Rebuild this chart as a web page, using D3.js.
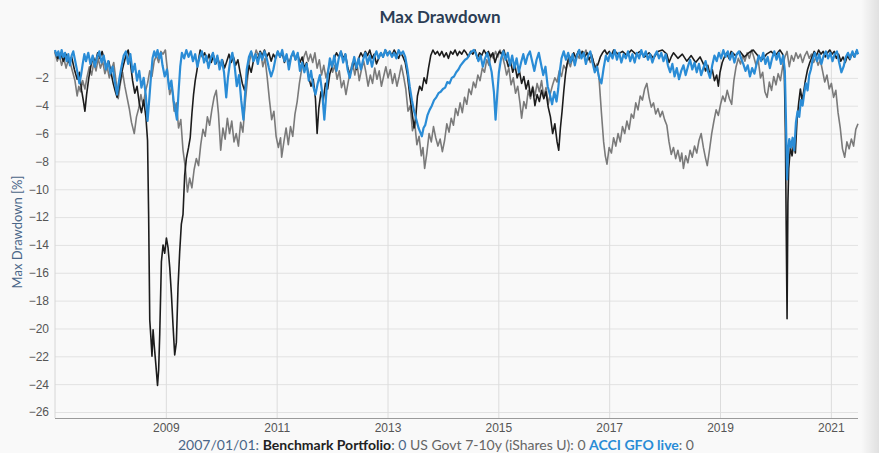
<!DOCTYPE html>
<html>
<head>
<meta charset="utf-8">
<script src="https://cdn.jsdelivr.net/npm/d3@7/dist/d3.min.js"></script>
<style>
  html, body { margin: 0; padding: 0; background: #f9f9f9; }
  svg { display: block; font-family: Lato, "Open Sans", sans-serif; }
</style>
</head>
<body>
<svg id="chart" width="879" height="453"></svg>
<script>
// ── data: [decimal year, drawdown %] ─────────────────────────
const govt = [
  [2007.00,-0.2],[2007.04,-0.8],[2007.08,-0.4],[2007.12,-1.1],[2007.16,-0.6],[2007.20,-1.3],[2007.24,-0.7],[2007.28,-1.0],
  [2007.32,-1.6],[2007.36,-2.2],[2007.40,-3.3],[2007.43,-2.6],[2007.46,-3.0],[2007.50,-2.2],[2007.54,-2.8],[2007.58,-1.9],
  [2007.62,-1.2],[2007.66,-1.8],[2007.70,-0.9],[2007.74,-1.5],[2007.78,-0.6],[2007.82,-1.3],[2007.86,-0.8],[2007.90,-1.7],
  [2007.94,-1.2],[2007.98,-2.0],[2008.02,-1.4],[2008.06,-0.9],[2008.10,-2.2],[2008.14,-3.5],[2008.18,-2.4],[2008.22,-1.6],
  [2008.26,-2.6],[2008.30,-3.4],[2008.34,-4.2],[2008.38,-5.2],[2008.43,-6.0],[2008.47,-4.8],[2008.51,-4.2],[2008.55,-3.2],
  [2008.59,-4.0],[2008.63,-3.0],[2008.67,-2.4],[2008.71,-1.5],[2008.75,-1.9],[2008.79,-0.8],[2008.83,-0.4],[2008.87,-0.9],
  [2008.91,-0.1],[2008.95,-0.3],[2008.99,0],[2009.03,-1.5],[2009.07,-3.2],[2009.11,-2.6],[2009.15,-4.4],[2009.19,-3.8],
  [2009.23,-5.6],[2009.27,-5.0],[2009.31,-7.2],[2009.35,-8.4],[2009.39,-10.2],[2009.43,-9.2],[2009.47,-9.9],[2009.51,-8.6],
  [2009.55,-7.8],[2009.59,-8.3],[2009.63,-6.8],[2009.67,-5.7],[2009.71,-6.2],[2009.75,-4.8],[2009.79,-5.4],[2009.83,-4.3],
  [2009.87,-3.4],[2009.91,-2.9],[2009.95,-4.6],[2009.99,-7.2],[2010.03,-5.6],[2010.07,-6.4],[2010.11,-4.9],[2010.15,-6.0],
  [2010.19,-5.1],[2010.23,-6.6],[2010.27,-6.0],[2010.31,-6.9],[2010.35,-5.2],[2010.39,-5.9],[2010.43,-3.9],[2010.47,-2.2],
  [2010.51,-0.8],[2010.55,-0.2],[2010.59,-0.7],[2010.63,0],[2010.67,-0.4],[2010.71,-0.1],[2010.75,-1.2],[2010.79,-0.6],
  [2010.83,-2.0],[2010.87,-3.6],[2010.91,-5.0],[2010.95,-4.4],[2010.99,-6.2],[2011.03,-7.0],[2011.07,-6.3],[2011.09,-7.7],
  [2011.13,-6.6],[2011.17,-5.6],[2011.21,-6.8],[2011.25,-5.5],[2011.29,-6.2],[2011.33,-4.6],[2011.37,-3.7],[2011.41,-2.4],
  [2011.45,-1.4],[2011.49,-0.5],[2011.53,-0.1],[2011.57,-0.8],[2011.61,-0.3],[2011.65,-0.9],[2011.69,-0.2],[2011.73,-1.3],
  [2011.77,-0.7],[2011.81,-1.8],[2011.85,-1.1],[2011.89,-2.0],[2011.93,-1.4],[2011.97,-0.8],[2012.01,-1.6],[2012.05,-1.1],
  [2012.09,-2.1],[2012.13,-1.5],[2012.17,-2.7],[2012.21,-2.2],[2012.25,-3.2],[2012.29,-2.3],[2012.33,-1.5],[2012.37,-0.9],
  [2012.41,-1.8],[2012.45,-1.0],[2012.49,-2.2],[2012.53,-1.4],[2012.57,-0.8],[2012.61,-1.6],[2012.65,-2.6],[2012.69,-1.8],
  [2012.73,-2.4],[2012.77,-1.3],[2012.81,-2.1],[2012.85,-1.5],[2012.89,-2.6],[2012.93,-1.9],[2012.97,-1.2],[2013.01,-2.0],
  [2013.05,-1.4],[2013.09,-2.4],[2013.13,-1.7],[2013.17,-2.6],[2013.21,-1.9],[2013.25,-1.1],[2013.29,-1.9],[2013.33,-2.8],
  [2013.37,-4.4],[2013.41,-4.0],[2013.45,-5.8],[2013.49,-5.2],[2013.53,-6.8],[2013.57,-6.2],[2013.61,-7.6],[2013.64,-7.0],
  [2013.67,-8.5],[2013.71,-7.4],[2013.75,-6.0],[2013.79,-6.6],[2013.83,-5.5],[2013.87,-6.3],[2013.91,-6.9],[2013.95,-6.4],
  [2013.99,-7.3],[2014.03,-6.5],[2014.07,-5.3],[2014.11,-5.9],[2014.15,-4.9],[2014.19,-5.4],[2014.23,-4.2],[2014.27,-4.7],
  [2014.31,-3.8],[2014.35,-4.5],[2014.39,-3.4],[2014.43,-3.9],[2014.47,-2.8],[2014.51,-3.2],[2014.55,-2.3],[2014.59,-2.7],
  [2014.63,-1.8],[2014.67,-2.2],[2014.71,-1.3],[2014.75,-1.6],[2014.79,-0.7],[2014.83,-1.1],[2014.87,-0.3],[2014.91,-0.6],
  [2014.95,-0.1],[2014.99,-0.5],[2015.03,0],[2015.07,-0.4],[2015.11,-1.0],[2015.15,-1.8],[2015.19,-1.3],[2015.23,-2.5],
  [2015.27,-2.0],[2015.31,-3.1],[2015.35,-2.6],[2015.39,-3.8],[2015.42,-4.9],[2015.46,-3.7],[2015.50,-4.2],[2015.54,-2.9],
  [2015.58,-3.5],[2015.62,-2.6],[2015.66,-3.3],[2015.70,-2.4],[2015.74,-3.0],[2015.78,-2.2],[2015.82,-3.4],[2015.86,-2.7],
  [2015.90,-3.9],[2015.94,-3.1],[2015.98,-2.5],[2016.02,-2.0],[2016.06,-2.3],[2016.10,-1.5],[2016.14,-1.9],[2016.18,-1.1],
  [2016.22,-1.4],[2016.26,-0.8],[2016.30,-1.2],[2016.34,-0.5],[2016.38,-0.9],[2016.42,-0.3],[2016.46,-0.6],[2016.50,-0.1],
  [2016.54,-0.4],[2016.58,0],[2016.62,-0.5],[2016.66,-0.9],[2016.70,-0.6],[2016.74,-1.3],[2016.78,-1.0],[2016.82,-2.2],
  [2016.86,-4.5],[2016.90,-6.6],[2016.93,-7.6],[2016.96,-8.2],[2017.00,-7.0],[2017.04,-7.4],[2017.08,-6.3],[2017.12,-6.9],
  [2017.16,-6.0],[2017.20,-6.6],[2017.24,-5.5],[2017.28,-6.0],[2017.32,-5.1],[2017.36,-5.7],[2017.40,-4.6],[2017.44,-4.9],
  [2017.48,-3.8],[2017.52,-4.3],[2017.56,-3.3],[2017.60,-3.6],[2017.64,-2.8],[2017.68,-2.4],[2017.72,-3.4],[2017.76,-4.1],
  [2017.80,-3.8],[2017.84,-4.6],[2017.88,-4.2],[2017.92,-4.8],[2017.96,-4.4],[2018.00,-5.0],[2018.04,-5.4],[2018.08,-6.6],
  [2018.12,-7.5],[2018.16,-7.0],[2018.20,-7.8],[2018.24,-7.2],[2018.28,-8.0],[2018.31,-7.4],[2018.34,-8.5],[2018.38,-7.6],
  [2018.42,-8.1],[2018.46,-7.2],[2018.50,-7.7],[2018.54,-6.9],[2018.58,-7.4],[2018.62,-6.5],[2018.66,-6.0],[2018.70,-7.0],
  [2018.74,-7.8],[2018.77,-8.3],[2018.81,-7.2],[2018.85,-6.0],[2018.89,-5.1],[2018.93,-4.3],[2018.97,-4.7],[2019.01,-3.9],
  [2019.05,-3.3],[2019.09,-3.7],[2019.13,-2.9],[2019.17,-3.5],[2019.21,-3.9],[2019.25,-2.2],[2019.29,-1.2],[2019.33,-0.6],
  [2019.37,-1.0],[2019.41,-0.4],[2019.45,-0.8],[2019.49,-0.2],[2019.53,-0.6],[2019.57,0],[2019.61,-0.5],[2019.65,-1.1],
  [2019.69,-0.7],[2019.73,-2.0],[2019.77,-1.6],[2019.81,-3.0],[2019.85,-3.4],[2019.89,-2.3],[2019.93,-2.9],[2019.97,-1.9],
  [2020.01,-2.5],[2020.05,-1.7],[2020.09,-2.2],[2020.13,-1.2],[2020.17,-0.5],[2020.21,-0.1],[2020.25,-1.2],[2020.29,-0.4],
  [2020.33,-0.8],[2020.37,-0.2],[2020.41,-0.6],[2020.45,-0.3],[2020.49,-0.9],[2020.53,-0.4],[2020.57,-0.1],[2020.61,-0.6],
  [2020.65,-0.3],[2020.69,-0.9],[2020.73,-0.5],[2020.77,-1.1],[2020.81,-0.7],[2020.85,-1.5],[2020.89,-2.3],[2020.93,-1.8],
  [2020.97,-2.8],[2021.01,-2.4],[2021.05,-3.4],[2021.09,-2.9],[2021.13,-4.5],[2021.17,-5.6],[2021.21,-7.1],[2021.25,-7.7],
  [2021.29,-6.6],[2021.33,-7.1],[2021.37,-6.4],[2021.41,-6.9],[2021.45,-5.7],[2021.49,-5.3]
];

const benchmark = [
  [2007.00,-0.1],[2007.05,-0.6],[2007.10,-0.2],[2007.15,-0.8],[2007.20,-0.3],[2007.25,-0.9],[2007.30,-0.5],[2007.35,-1.4],
  [2007.40,-2.1],[2007.44,-1.6],[2007.48,-2.9],[2007.51,-3.6],[2007.54,-4.4],[2007.57,-3.2],[2007.61,-2.0],[2007.65,-1.1],
  [2007.69,-0.5],[2007.73,-0.9],[2007.77,-0.2],[2007.81,-0.6],[2007.85,-0.1],[2007.89,-0.7],[2007.93,-1.2],[2007.97,-0.8],
  [2008.01,-1.6],[2008.05,-2.4],[2008.09,-3.0],[2008.12,-3.4],[2008.16,-2.6],[2008.20,-1.7],[2008.24,-1.0],[2008.28,-0.4],
  [2008.32,0],[2008.36,-0.9],[2008.40,-2.2],[2008.44,-3.1],[2008.48,-2.6],[2008.52,-3.8],[2008.56,-4.5],[2008.60,-3.6],
  [2008.64,-4.8],[2008.67,-6.5],[2008.69,-12.0],[2008.71,-19.4],[2008.73,-20.6],[2008.75,-22.0],[2008.77,-20.1],[2008.79,-21.2],
  [2008.82,-22.6],[2008.85,-24.1],[2008.87,-23.0],[2008.89,-20.4],[2008.92,-15.2],[2008.95,-14.0],[2008.98,-14.6],[2009.01,-13.5],
  [2009.04,-14.2],[2009.07,-15.6],[2009.10,-17.5],[2009.13,-19.8],[2009.16,-21.9],[2009.19,-21.0],[2009.22,-17.0],[2009.25,-14.5],
  [2009.28,-12.5],[2009.31,-11.8],[2009.34,-9.0],[2009.37,-7.8],[2009.41,-7.0],[2009.44,-6.3],[2009.47,-4.6],[2009.50,-3.2],
  [2009.53,-2.2],[2009.56,-1.5],[2009.59,-0.7],[2009.62,0],[2009.66,-0.5],[2009.70,-0.2],[2009.74,-0.8],[2009.78,-0.3],
  [2009.82,-0.9],[2009.86,-0.4],[2009.90,-1.0],[2009.94,-0.6],[2009.98,-1.2],[2010.02,-0.7],[2010.06,-1.3],[2010.10,-0.8],
  [2010.14,-0.3],[2010.18,-0.9],[2010.22,-0.5],[2010.26,-1.1],[2010.30,-0.7],[2010.34,-1.6],[2010.38,-2.4],[2010.42,-2.9],
  [2010.46,-2.0],[2010.50,-1.1],[2010.54,-1.6],[2010.58,-0.8],[2010.62,-0.3],[2010.66,-0.7],[2010.70,-0.1],[2010.74,-0.4],
  [2010.78,0],[2010.82,-0.5],[2010.86,-0.2],[2010.90,-0.8],[2010.94,-0.3],[2010.98,-0.6],[2011.02,-0.1],[2011.06,-0.5],
  [2011.10,-0.2],[2011.14,-0.9],[2011.18,-0.4],[2011.22,-1.0],[2011.26,-0.5],[2011.30,-0.2],[2011.34,-0.7],[2011.38,-0.3],
  [2011.42,-0.9],[2011.46,-0.5],[2011.50,-1.3],[2011.54,-0.9],[2011.58,-2.0],[2011.62,-2.6],[2011.66,-2.1],[2011.70,-3.5],
  [2011.73,-6.0],[2011.76,-4.2],[2011.80,-3.0],[2011.84,-3.6],[2011.88,-2.4],[2011.92,-2.8],[2011.96,-1.7],[2012.00,-1.2],
  [2012.04,-0.6],[2012.08,-0.2],[2012.12,-0.5],[2012.16,-0.1],[2012.20,-0.6],[2012.24,-0.3],[2012.28,-1.2],[2012.32,-1.8],
  [2012.36,-1.3],[2012.40,-0.8],[2012.44,-1.4],[2012.48,-0.6],[2012.52,-0.2],[2012.56,-0.5],[2012.60,-0.1],[2012.64,-0.4],
  [2012.68,0],[2012.72,-0.6],[2012.76,-0.3],[2012.80,-1.0],[2012.84,-0.6],[2012.88,-0.2],[2012.92,-0.5],[2012.96,0],
  [2013.00,-0.3],[2013.04,-0.1],[2013.08,-0.4],[2013.12,0],[2013.16,-0.3],[2013.20,-0.6],[2013.24,-0.2],[2013.28,-0.5],
  [2013.32,-0.9],[2013.36,-1.8],[2013.40,-3.2],[2013.44,-4.4],[2013.48,-5.6],[2013.51,-4.8],[2013.54,-3.3],[2013.58,-2.6],
  [2013.62,-2.9],[2013.66,-2.0],[2013.70,-2.4],[2013.74,-1.3],[2013.78,-0.4],[2013.82,0],[2013.86,-0.3],[2013.90,-0.1],
  [2013.94,-0.4],[2013.98,-0.1],[2014.02,-0.5],[2014.06,-0.2],[2014.10,-0.6],[2014.14,-0.1],[2014.18,-0.3],[2014.22,0],
  [2014.26,-0.4],[2014.30,-0.1],[2014.34,-0.3],[2014.38,0],[2014.42,-0.2],[2014.46,-0.5],[2014.50,-0.1],[2014.54,-0.3],
  [2014.58,0],[2014.62,-0.6],[2014.66,-0.2],[2014.70,-0.4],[2014.74,0],[2014.78,-0.3],[2014.82,-0.1],[2014.86,-0.5],
  [2014.90,-0.2],[2014.94,-0.9],[2014.98,-0.4],[2015.02,-0.1],[2015.06,-0.3],[2015.10,0],[2015.14,-0.6],[2015.18,-1.2],
  [2015.22,-0.8],[2015.26,-1.6],[2015.30,-1.1],[2015.34,-2.0],[2015.38,-1.5],[2015.42,-2.4],[2015.46,-1.9],[2015.50,-2.8],
  [2015.54,-2.2],[2015.58,-3.3],[2015.62,-2.7],[2015.66,-4.0],[2015.70,-3.2],[2015.74,-3.7],[2015.78,-2.9],[2015.82,-3.5],
  [2015.86,-3.0],[2015.90,-4.1],[2015.94,-4.8],[2015.98,-6.0],[2016.02,-5.3],[2016.06,-6.6],[2016.09,-7.2],[2016.12,-5.6],
  [2016.15,-4.4],[2016.18,-3.0],[2016.21,-1.8],[2016.24,-1.0],[2016.28,-0.4],[2016.32,-0.8],[2016.36,-0.2],[2016.40,-0.6],
  [2016.44,-0.1],[2016.48,-0.4],[2016.52,-0.1],[2016.56,-0.5],[2016.60,-0.2],[2016.64,-0.7],[2016.68,-0.3],[2016.72,-0.9],
  [2016.76,-1.4],[2016.80,-1.0],[2016.84,-0.5],[2016.88,-0.2],[2016.92,0],[2016.96,-0.3],[2017.00,-0.1],[2017.04,-0.4],
  [2017.08,0],[2017.16,-0.3],[2017.24,-0.1],[2017.32,-0.4],[2017.40,0],[2017.48,-0.3],[2017.56,-0.1],[2017.64,-0.5],
  [2017.72,-0.2],[2017.80,-0.6],[2017.88,-0.1],[2017.96,0],[2018.04,-0.3],[2018.08,-0.9],[2018.12,-0.5],[2018.16,-0.2],
  [2018.24,-0.6],[2018.32,-0.3],[2018.40,-0.8],[2018.48,-0.4],[2018.56,-0.9],[2018.64,-0.5],[2018.70,-1.0],[2018.74,-1.5],
  [2018.78,-1.1],[2018.82,-1.8],[2018.86,-1.4],[2018.90,-2.2],[2018.94,-1.8],[2018.97,-2.6],[2019.00,-1.6],[2019.04,-0.9],
  [2019.08,-0.5],[2019.12,-0.2],[2019.16,-0.6],[2019.20,-0.1],[2019.28,-0.4],[2019.36,-0.1],[2019.44,-0.5],[2019.52,-0.2],
  [2019.60,0],[2019.68,-0.4],[2019.76,-0.7],[2019.84,-0.3],[2019.92,-0.1],[2020.00,-0.4],[2020.08,0],[2020.13,-0.3],
  [2020.16,-1.5],[2020.18,-6.0],[2020.195,-13.0],[2020.21,-19.3],[2020.225,-11.0],[2020.24,-8.5],[2020.27,-7.0],[2020.30,-7.6],
  [2020.33,-6.7],[2020.36,-7.4],[2020.39,-5.0],[2020.42,-3.8],[2020.45,-2.8],[2020.48,-3.6],[2020.51,-3.0],[2020.54,-2.2],
  [2020.58,-1.4],[2020.62,-0.9],[2020.66,-0.5],[2020.70,-0.1],[2020.74,-0.4],[2020.78,0],[2020.82,-0.3],[2020.86,-0.1],
  [2020.90,-0.5],[2020.94,-0.2],[2020.98,0],[2021.02,-0.3],[2021.06,-0.1],[2021.10,-0.6],[2021.14,-0.3],[2021.18,-0.8],
  [2021.22,-0.5],[2021.26,-0.9],[2021.30,-0.4],[2021.34,-0.7],[2021.38,-0.2],[2021.42,-0.5],[2021.46,-0.1],[2021.49,-0.3]
];

const acci = [
  [2007.00,0],[2007.03,-0.4],[2007.06,-0.1],[2007.09,-0.6],[2007.12,0],[2007.15,-0.5],[2007.18,-0.2],[2007.21,-0.8],
  [2007.24,-0.3],[2007.27,-1.1],[2007.30,-0.4],[2007.33,-0.1],[2007.36,-0.7],[2007.40,-1.5],[2007.44,-2.4],[2007.47,-1.8],
  [2007.50,-1.0],[2007.53,-0.3],[2007.56,-0.8],[2007.60,-0.2],[2007.64,-1.0],[2007.68,-0.4],[2007.72,-1.2],[2007.76,-0.5],
  [2007.80,-0.1],[2007.84,-0.9],[2007.88,-0.4],[2007.92,-1.4],[2007.96,-0.8],[2008.00,-1.7],[2008.04,-1.2],[2008.08,-2.3],
  [2008.12,-3.2],[2008.16,-2.1],[2008.20,-1.2],[2008.24,-0.4],[2008.28,-0.1],[2008.32,-1.0],[2008.36,-0.3],[2008.40,-1.6],
  [2008.44,-1.0],[2008.48,-2.2],[2008.52,-1.5],[2008.56,-2.7],[2008.60,-2.0],[2008.64,-3.3],[2008.67,-5.1],[2008.70,-3.6],
  [2008.73,-2.0],[2008.76,-0.6],[2008.79,-0.1],[2008.82,-0.5],[2008.85,0],[2008.88,-0.6],[2008.91,-0.2],[2008.94,-1.1],
  [2008.98,-1.9],[2009.02,-1.4],[2009.06,-2.8],[2009.10,-2.2],[2009.14,-3.6],[2009.17,-4.3],[2009.20,-5.0],[2009.23,-3.0],
  [2009.26,-1.2],[2009.29,-0.2],[2009.33,-0.6],[2009.37,0],[2009.41,-0.5],[2009.45,-0.1],[2009.49,-0.8],[2009.53,-0.3],
  [2009.57,-1.2],[2009.61,-0.5],[2009.65,-0.1],[2009.69,-0.9],[2009.73,-0.4],[2009.77,-1.3],[2009.81,-0.6],[2009.85,-0.2],
  [2009.89,-1.0],[2009.93,-0.4],[2009.97,-1.4],[2010.01,-0.7],[2010.05,-1.6],[2010.09,-3.4],[2010.12,-2.0],[2010.16,-0.8],
  [2010.20,-0.2],[2010.24,-1.1],[2010.28,-2.6],[2010.32,-1.8],[2010.36,-3.6],[2010.40,-5.0],[2010.43,-3.2],[2010.46,-1.4],
  [2010.50,-0.5],[2010.54,-0.1],[2010.58,-0.8],[2010.62,-0.3],[2010.66,-1.0],[2010.70,-0.2],[2010.74,-0.7],[2010.78,-0.1],
  [2010.82,-0.6],[2010.86,-1.3],[2010.90,-1.9],[2010.94,-1.4],[2010.98,-0.6],[2011.02,-0.1],[2011.06,-0.5],[2011.10,0],
  [2011.14,-0.8],[2011.18,-0.3],[2011.22,-1.4],[2011.26,-0.5],[2011.30,-0.1],[2011.34,-0.7],[2011.38,-0.2],[2011.42,-1.5],
  [2011.46,-0.9],[2011.50,-1.6],[2011.54,-1.0],[2011.58,-2.2],[2011.62,-1.5],[2011.66,-2.6],[2011.70,-3.2],[2011.74,-2.4],
  [2011.78,-1.8],[2011.82,-3.0],[2011.86,-5.0],[2011.89,-3.4],[2011.92,-1.8],[2011.96,-0.6],[2012.00,-1.2],[2012.04,-0.4],
  [2012.08,-1.5],[2012.12,-0.6],[2012.16,-0.1],[2012.20,-0.9],[2012.24,-0.3],[2012.28,-1.4],[2012.32,-2.0],[2012.36,-1.2],
  [2012.40,-0.5],[2012.44,-1.3],[2012.48,-0.6],[2012.52,-1.4],[2012.56,-0.7],[2012.60,-0.2],[2012.64,-1.0],[2012.68,-0.4],
  [2012.72,-1.2],[2012.76,-0.5],[2012.80,-0.1],[2012.84,-0.6],[2012.88,-0.2],[2012.92,-0.5],[2012.96,0],[2013.00,-0.4],
  [2013.04,-0.1],[2013.08,-0.5],[2013.12,-0.2],[2013.16,-0.6],[2013.20,0],[2013.24,-0.3],[2013.28,-0.1],[2013.32,-0.5],
  [2013.36,-1.4],[2013.40,-2.6],[2013.44,-3.6],[2013.48,-4.4],[2013.52,-5.0],[2013.56,-5.6],[2013.59,-5.9],[2013.62,-6.2],
  [2013.65,-5.6],[2013.68,-5.4],[2013.72,-4.7],[2013.76,-4.3],[2013.80,-4.0],[2013.84,-3.6],[2013.88,-3.4],[2013.92,-3.1],
  [2013.96,-3.0],[2014.00,-2.8],[2014.04,-2.7],[2014.08,-2.3],[2014.12,-2.4],[2014.16,-2.0],[2014.20,-1.9],[2014.24,-1.6],
  [2014.28,-1.4],[2014.32,-1.1],[2014.36,-0.9],[2014.40,-0.7],[2014.44,-0.6],[2014.48,-0.3],[2014.52,-0.1],[2014.56,0],
  [2014.60,-0.3],[2014.64,-0.8],[2014.68,-0.4],[2014.72,-1.2],[2014.76,-0.6],[2014.80,-0.2],[2014.84,-0.9],[2014.88,-1.6],
  [2014.92,-3.0],[2014.95,-5.0],[2014.98,-3.2],[2015.01,-1.6],[2015.05,-0.6],[2015.09,-0.1],[2015.13,-0.7],[2015.17,-0.2],
  [2015.21,-1.1],[2015.25,-0.4],[2015.29,-1.3],[2015.33,-0.6],[2015.37,-1.6],[2015.41,-0.9],[2015.45,-0.3],[2015.49,-1.0],
  [2015.53,-0.4],[2015.57,-0.1],[2015.61,-0.8],[2015.65,-1.5],[2015.69,-0.7],[2015.73,-0.2],[2015.77,-1.0],[2015.81,-1.8],
  [2015.85,-1.2],[2015.89,-2.6],[2015.93,-3.2],[2015.97,-3.9],[2016.01,-3.0],[2016.05,-3.7],[2016.08,-2.8],[2016.11,-1.5],
  [2016.14,-0.6],[2016.18,-0.1],[2016.22,-0.7],[2016.26,-0.2],[2016.30,-0.9],[2016.34,-0.3],[2016.38,-1.1],[2016.42,-0.4],
  [2016.46,0],[2016.50,-0.6],[2016.54,-0.2],[2016.58,-1.0],[2016.62,-0.4],[2016.66,-0.1],[2016.70,-0.9],[2016.74,-1.6],
  [2016.78,-1.2],[2016.82,-2.0],[2016.86,-2.4],[2016.90,-1.3],[2016.94,-0.4],[2016.98,-0.8],[2017.02,-0.2],[2017.06,-0.6],
  [2017.10,0],[2017.14,-0.7],[2017.18,-0.2],[2017.22,-0.9],[2017.26,-0.3],[2017.30,-0.6],[2017.34,-0.1],[2017.38,-0.8],
  [2017.42,-0.3],[2017.46,-0.9],[2017.50,-0.2],[2017.54,-0.6],[2017.58,0],[2017.62,-0.5],[2017.66,-0.1],[2017.70,-0.7],
  [2017.74,-0.3],[2017.78,-0.9],[2017.82,-0.4],[2017.86,-0.1],[2017.90,-0.6],[2017.94,-0.2],[2017.98,-0.8],[2018.02,-0.3],
  [2018.06,-1.1],[2018.10,-1.6],[2018.14,-1.0],[2018.18,-1.9],[2018.22,-1.3],[2018.26,-2.1],[2018.30,-1.5],[2018.34,-1.1],
  [2018.38,-1.8],[2018.42,-1.2],[2018.46,-0.7],[2018.50,-1.4],[2018.54,-0.9],[2018.58,-1.6],[2018.62,-1.0],[2018.66,-1.8],
  [2018.70,-1.3],[2018.74,-0.8],[2018.78,-1.5],[2018.82,-2.0],[2018.86,-1.1],[2018.90,-0.4],[2018.94,-0.8],[2018.98,-0.2],
  [2019.02,-0.6],[2019.06,0],[2019.10,-0.5],[2019.14,-0.1],[2019.18,-0.7],[2019.22,-0.2],[2019.26,-0.9],[2019.30,-0.3],
  [2019.34,-0.1],[2019.38,-0.6],[2019.42,-1.0],[2019.46,-1.5],[2019.50,-1.1],[2019.54,-1.9],[2019.58,-1.3],[2019.62,-1.7],
  [2019.66,-1.0],[2019.70,-0.4],[2019.74,-0.8],[2019.78,-0.2],[2019.82,-1.0],[2019.86,-0.5],[2019.90,-1.3],[2019.94,-0.6],
  [2019.98,-0.1],[2020.02,-0.7],[2020.06,-0.2],[2020.10,-1.0],[2020.14,-0.4],[2020.17,-1.5],[2020.19,-5.0],[2020.21,-9.3],
  [2020.23,-7.2],[2020.25,-6.4],[2020.28,-7.0],[2020.31,-6.3],[2020.34,-7.2],[2020.37,-5.2],[2020.40,-4.4],[2020.43,-4.8],
  [2020.46,-3.6],[2020.49,-4.0],[2020.52,-3.1],[2020.55,-2.4],[2020.58,-2.9],[2020.61,-1.8],[2020.64,-1.4],[2020.67,-0.7],
  [2020.71,-0.2],[2020.75,-0.8],[2020.79,-0.3],[2020.83,-1.0],[2020.87,-0.4],[2020.91,-0.1],[2020.95,-0.6],[2020.99,-0.2],
  [2021.03,-0.8],[2021.07,-0.3],[2021.11,-0.1],[2021.15,-0.9],[2021.19,-1.6],[2021.23,-1.2],[2021.27,-0.5],[2021.31,-0.2],
  [2021.35,-0.6],[2021.39,-0.1],[2021.43,-0.5],[2021.47,0],[2021.49,-0.3]
];

const yTicks    = [-2, -4, -6, -8, -10, -12, -14, -16, -18, -20, -22, -24, -26];
const tickYears = [2009, 2011, 2013, 2015, 2017, 2019, 2021];

const chartTitle = "Max Drawdown";
const yLabel     = "Max Drawdown [%]";
const legendDate = "2007/01/01";

// ── 캔버스 ───────────────────────────────────────────────────
const width = 879, height = 453;
const plotL = 55, plotR = 858, plotT = 50, plotB = 418;

const svg = d3.select("#chart");

// right-edge shadow
const defs = svg.append("defs");
const grad = defs.append("linearGradient").attr("id", "edge").attr("x1", "0").attr("x2", "1");
grad.append("stop").attr("offset", "0").attr("stop-color", "#000").attr("stop-opacity", 0);
grad.append("stop").attr("offset", "1").attr("stop-color", "#000").attr("stop-opacity", 0.1);
svg.append("rect").attr("x", 861).attr("y", 0).attr("width", 18).attr("height", height).attr("fill", "url(#edge)");

const x = d3.scaleLinear().domain([2007, 2021.49]).range([plotL, plotR]);
const y = d3.scaleLinear().domain([-26.43, 0]).range([plotB, plotT]);

// ── 축 ───────────────────────────────────────────────────────
const yAxis = svg.append("g")
  .attr("transform", `translate(${plotL},0)`)
  .call(d3.axisLeft(y).tickValues(yTicks).tickSize(-(plotR - plotL)).tickPadding(6));
yAxis.select(".domain").remove();
yAxis.selectAll(".tick line").attr("stroke", "#e2e2e2");
yAxis.selectAll(".tick text").attr("fill", "#555").style("font-size", "12px");

const xAxis = svg.append("g")
  .attr("transform", `translate(0,${plotB})`)
  .call(d3.axisBottom(x).tickValues(tickYears).tickFormat(d3.format("d")).tickSize(-(plotB - plotT)).tickPadding(5));
xAxis.select(".domain").remove();
xAxis.selectAll(".tick line").attr("stroke", "#dcdcdc");
xAxis.selectAll(".tick text").attr("fill", "#555").style("font-size", "12px");

svg.append("line").attr("x1", plotL).attr("x2", plotL).attr("y1", plotT).attr("y2", plotB)
  .attr("stroke", "#d6d6d6");
svg.append("line").attr("x1", plotL).attr("x2", plotR).attr("y1", plotB + 0.5).attr("y2", plotB + 0.5)
  .attr("stroke", "#9a9a9a");

// ── 라인 ─────────────────────────────────────────────────────
const line = d3.line().x(d => x(d[0])).y(d => y(d[1]));
const series = [
  { data: govt,      color: "#7a7a7a", w: 1.6 },
  { data: benchmark, color: "#1c1c1c", w: 1.6 },
  { data: acci,      color: "#2a8cd6", w: 2.2 },
];
series.forEach(s => {
  svg.append("path").datum(s.data)
    .attr("d", line)
    .attr("fill", "none")
    .attr("stroke", s.color)
    .attr("stroke-width", s.w)
    .attr("stroke-linejoin", "round");
});

// ── 텍스트 ───────────────────────────────────────────────────
svg.append("text")
  .attr("x", 440).attr("y", 23)
  .attr("text-anchor", "middle")
  .attr("fill", "#2c3e55")
  .style("font-size", "17px").style("font-weight", "bold")
  .text(chartTitle);

svg.append("text")
  .attr("transform", `translate(22,${(plotT + plotB) / 2 - 2}) rotate(-90)`)
  .attr("text-anchor", "middle")
  .attr("fill", "#4a6688")
  .style("font-size", "13px")
  .text(yLabel);

const legend = svg.append("text")
  .attr("x", 436).attr("y", 450)
  .attr("text-anchor", "middle")
  .style("font-size", "14px");
legend.append("tspan").attr("fill", "#4a6688").text(legendDate + ": ");
legend.append("tspan").attr("fill", "#222").style("font-weight", "bold").text("Benchmark Portfolio");
legend.append("tspan").attr("fill", "#555").text(": ");
legend.append("tspan").attr("fill", "#4a6688").text("0 ");
legend.append("tspan").attr("fill", "#666").text("US Govt 7-10y (iShares U): 0 ");
legend.append("tspan").attr("fill", "#2a8cd6").style("font-weight", "bold").text("ACCI GFO live");
legend.append("tspan").attr("fill", "#666").text(": 0");
</script>
</body>
</html>
